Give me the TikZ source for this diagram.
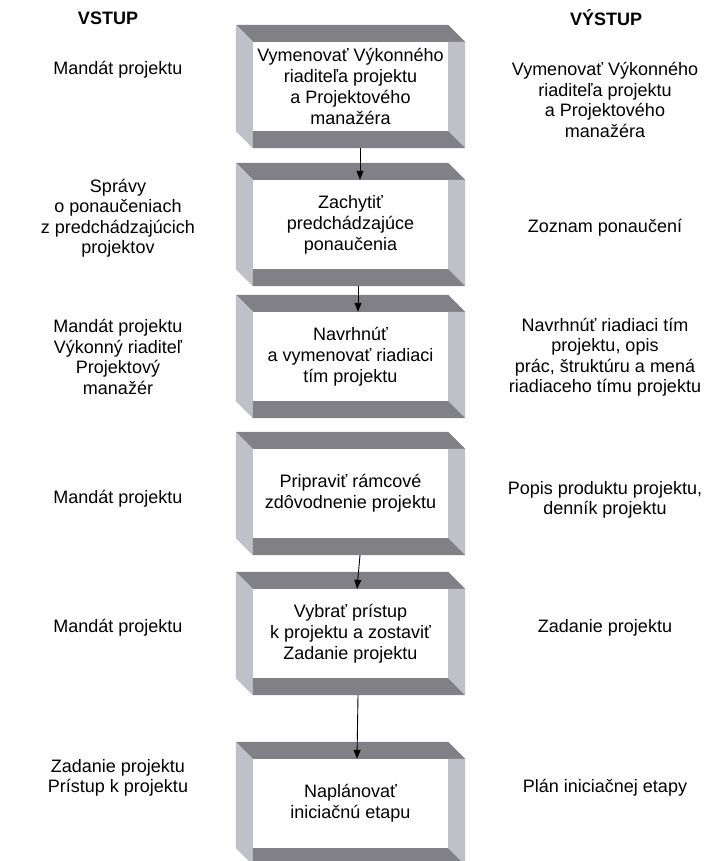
\documentclass[tikz,border=0pt]{standalone}
\usepackage{fontspec}
\setmainfont{Liberation Sans}
\usetikzlibrary{arrows.meta}
\definecolor{bevdark}{RGB}{128,128,134}
\definecolor{bevlight}{RGB}{192,192,200}
\tikzset{
  txt/.style={align=center, font=\fontsize{18}{20.5}\selectfont, inner sep=0pt},
  head/.style={font=\fontsize{18}{21}\selectfont\bfseries, inner sep=0pt},
  stepbox/.style={minimum width=195pt, minimum height=89pt, inner sep=0pt,
    align=center, font=\fontsize{18}{21}\selectfont, fill=white},
  arr/.style={line width=0.9pt, -{Triangle[length=9pt,width=7pt]}},
}
\newcommand\bevframe[1]{%
  \fill[bevdark] ([xshift=-17pt,yshift=17pt]#1.north west) -- ([yshift=17pt]#1.north east)
     -- ([xshift=17pt]#1.north east) -- (#1.north west) -- cycle;
  \fill[bevlight] ([xshift=-17pt,yshift=17pt]#1.north west) -- (#1.north west)
     -- ([yshift=-17pt]#1.south west) -- ([xshift=-17pt]#1.south west) -- cycle;
  \fill[bevlight] (#1.north east) -- ([xshift=17pt]#1.north east)
     -- ([xshift=17pt,yshift=-17pt]#1.south east) -- (#1.south east) -- cycle;
  \fill[bevdark] (#1.south west) -- (#1.south east)
     -- ([xshift=17pt,yshift=-17pt]#1.south east) -- ([yshift=-17pt]#1.south west) -- cycle;
}
\begin{document}
\begin{tikzpicture}[x=1pt,y=-1pt]
\useasboundingbox (0,0) rectangle (719,861);
\clip (0,0) rectangle (719,861);

% headers
\node[head] (hin) at (108,18) {VSTUP};
\node[head] (hout) at (606,18) {VÝSTUP};

% step boxes
\node[stepbox] (b1) at (350.5,86.5) {Vymenovať Výkonného\\riaditeľa projektu\\a Projektového\\manažéra};
\bevframe{b1}
\node[stepbox] (b2) at (350.5,224.5) {Zachytiť\\predchádzajúce\\ponaučenia};
\bevframe{b2}
\node[stepbox] (b3) at (350.5,356.5) {Navrhnúť\\a vymenovať riadiaci\\tím projektu};
\bevframe{b3}
\node[stepbox] (b4) at (350.5,493.5) {Pripraviť rámcové\\zdôvodnenie projektu};
\bevframe{b4}
\node[stepbox] (b5) at (350.5,633.5) {Vybrať prístup\\k projektu a zostaviť\\Zadanie projektu};
\bevframe{b5}
\node[stepbox] (b6) at (350.5,803.5) {Naplánovať\\iniciačnú etapu};
\bevframe{b6}

% connectors
\draw[arr] ([xshift=9.5pt,yshift=-17pt]b1.south) -- ([xshift=9.5pt]b2.north);
\draw[arr] ([xshift=7.5pt,yshift=-17pt]b2.south) -- ([xshift=7.5pt]b3.north);
\draw[arr] ([xshift=9.5pt,yshift=-17pt]b4.south) -- ([xshift=6.5pt]b5.north);
\draw[arr] ([xshift=7.5pt,yshift=-17pt]b5.south) -- ([xshift=6.5pt]b6.north);

% inputs
\node[txt] (i1) at (118,70) {Mandát projektu};
\node[txt] (i2) at (118,218) {Správy\\o ponaučeniach\\z predchádzajúcich\\projektov};
\node[txt] (i3) at (118,357) {Mandát projektu\\Výkonný riaditeľ\\Projektový\\manažér};
\node[txt] (i4) at (118,499) {Mandát projektu};
\node[txt] (i5) at (118,628) {Mandát projektu};
\node[txt] (i6) at (118,778) {Zadanie projektu\\Prístup k projektu};

% outputs
\node[txt] (o1) at (605,100) {Vymenovať Výkonného\\riaditeľa projektu\\a Projektového\\manažéra};
\node[txt] (o2) at (605,228) {Zoznam ponaučení};
\node[txt] (o3) at (605,357) {Navrhnúť riadiaci tím\\projektu, opis\\prác, štruktúru a mená\\riadiaceho tímu projektu};
\node[txt] (o4) at (605,500) {Popis produktu projektu,\\denník projektu};
\node[txt] (o5) at (605,628) {Zadanie projektu};
\node[txt] (o6) at (605,788) {Plán iniciačnej etapy};
\end{tikzpicture}
\end{document}
